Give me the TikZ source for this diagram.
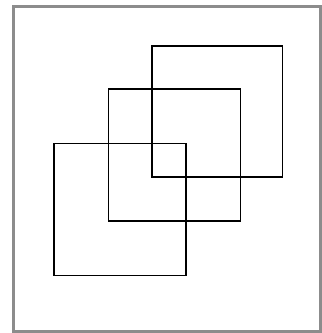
\documentclass[tikz,border=0pt]{standalone}
\usepackage{tikz}
\usetikzlibrary{positioning}
\definecolor{keretszin}{RGB}{140,140,140}
\tikzset{
  negyzet/.style={draw=black,line width=1.6pt,inner sep=0pt,minimum width=132pt,minimum height=132pt},
  keret/.style={draw=keretszin,line width=3pt},
}
\begin{document}
\begin{tikzpicture}[x=1pt,y=-1pt]
  \useasboundingbox (0,0) rectangle (322,333);
  \draw[keret] (13.5,6.5) rectangle (320.5,331.5);
  \node[negyzet] (bal) at (120,209.5) {};
  \node[negyzet] (kozep) at (174.3,154.7) {};
  \node[negyzet,minimum width=130.5pt,minimum height=131pt] (jobb) at (217.3,111.3) {};
\end{tikzpicture}
\end{document}
